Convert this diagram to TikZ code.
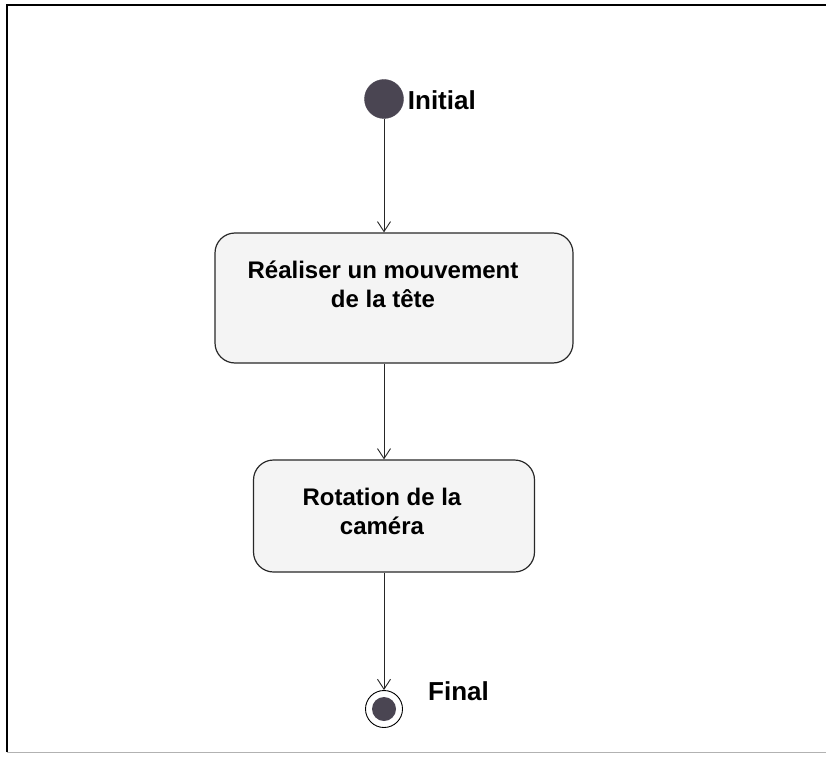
\documentclass[tikz,border=0pt]{standalone}
\usepackage{fontspec}
\setmainfont{Liberation Sans}
\usepackage{tikz}
\usetikzlibrary{arrows.meta, positioning}
\definecolor{dotfill}{RGB}{74,69,82}
\definecolor{boxfill}{RGB}{244,244,244}
\definecolor{boxline}{RGB}{40,40,40}

\begin{document}
\begin{tikzpicture}[
    x=1pt, y=-1pt,
    font=\fontsize{24}{29}\selectfont\bfseries,
    activity/.style={draw=boxline, line width=1.2pt, rounded corners=20pt, fill=boxfill},
    acttext/.style={align=center, inner sep=0pt},
    initdot/.style={circle, fill=dotfill, draw=dotfill, minimum size=39pt, inner sep=0pt},
    finring/.style={circle, draw=black, line width=0.9pt, fill=white, minimum size=37pt, inner sep=0pt},
    findot/.style={circle, fill=dotfill, minimum size=24pt, inner sep=0pt},
    tag/.style={anchor=west, inner sep=0pt, font=\fontsize{26}{30}\selectfont\bfseries},
    flow/.style={-{Straight Barb[length=10pt, width=13pt]}, line width=0.9pt, black!85},
    frame/.style={line width=1.3pt, black}
]
\useasboundingbox (0,0) rectangle (826,759);

% Frame
\draw[frame] (7,752) -- (7,5) -- (826,5);
\draw[line width=0.6pt, black!30] (7,752) -- (826,752);

% Initial state
\node[initdot] (init) at (384,99) {};
\node[tag] (initlbl) at ([xshift=4pt, yshift=-1pt]init.east) {Initial};

% Activities
\node[activity, minimum width=358pt, minimum height=130pt] (move) at (394,298) {};
\node[acttext] (movetxt) at (383,284) {R\'ealiser un mouvement\\de la t\^ete};

\node[activity, minimum width=281pt, minimum height=112pt] (rot) at (394,516) {};
\node[acttext] (rottxt) at (382,511) {Rotation de la\\cam\'era};

% Final state
\node[finring] (fin) at (384,709) {};
\node[findot] (findot) at (fin) {};
\node[tag] (finlbl) at ([xshift=25pt, yshift=18pt]fin.east) {Final};

% Arrows
\draw[flow] (init.south) -- (init.south |- move.north);
\draw[flow] (move.south -| init) -- (rot.north -| init);
\draw[flow] (rot.south -| init) -- (fin.north);

\end{tikzpicture}
\end{document}
